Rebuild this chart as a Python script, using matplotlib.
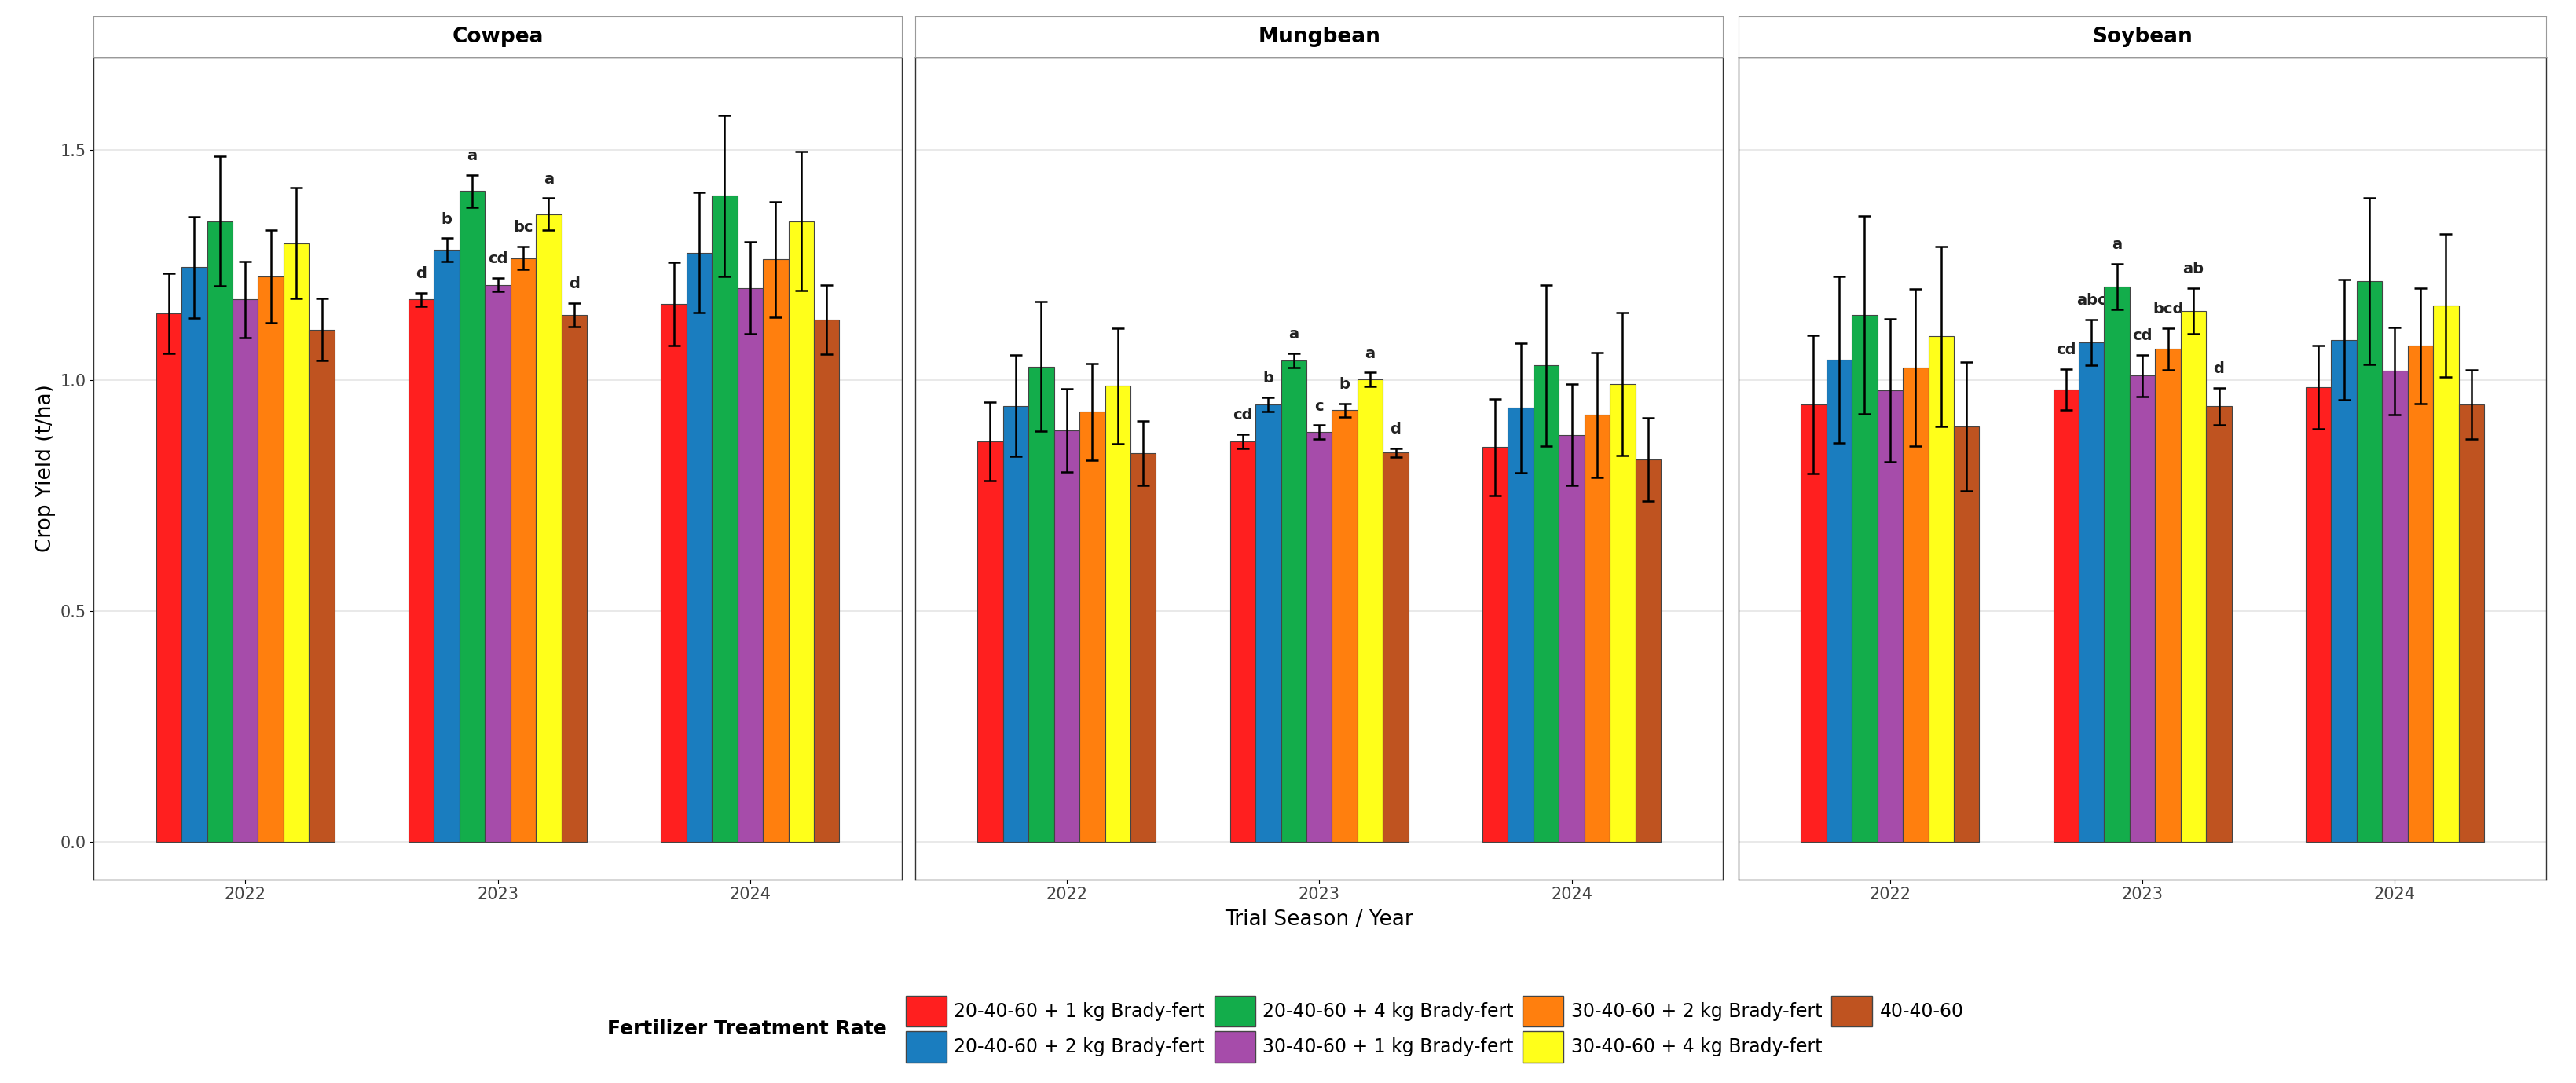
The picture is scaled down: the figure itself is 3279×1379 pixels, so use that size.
import matplotlib.pyplot as plt
from matplotlib.patches import Patch
import numpy as np

crops = ["Cowpea", "Mungbean", "Soybean"]
years = ["2022", "2023", "2024"]
treatments = ["20-40-60 + 1 kg Brady-fert", "20-40-60 + 2 kg Brady-fert",
              "20-40-60 + 4 kg Brady-fert", "30-40-60 + 1 kg Brady-fert",
              "30-40-60 + 2 kg Brady-fert", "30-40-60 + 4 kg Brady-fert",
              "40-40-60"]
colors = ["#FF1F1F", "#1A7DBF", "#13AD4B", "#A64CAA", "#FF7F0E", "#FFFF1A", "#BF5320"]

cowpea_mean = [[1.145, 1.245, 1.345, 1.175, 1.225, 1.297, 1.110],
               [1.175, 1.283, 1.410, 1.207, 1.265, 1.360, 1.142],
               [1.165, 1.277, 1.400, 1.200, 1.262, 1.345, 1.132]]
cowpea_err = [[0.087, 0.110, 0.140, 0.083, 0.100, 0.120, 0.067],
              [0.015, 0.025, 0.035, 0.015, 0.025, 0.035, 0.025],
              [0.090, 0.130, 0.175, 0.100, 0.125, 0.150, 0.075]]
mung_mean = [[0.868, 0.945, 1.030, 0.892, 0.932, 0.988, 0.842],
             [0.868, 0.948, 1.043, 0.888, 0.935, 1.002, 0.843],
             [0.855, 0.940, 1.032, 0.882, 0.925, 0.992, 0.828]]
mung_err = [[0.085, 0.110, 0.140, 0.090, 0.105, 0.125, 0.070],
            [0.015, 0.015, 0.015, 0.015, 0.015, 0.015, 0.010],
            [0.105, 0.140, 0.175, 0.110, 0.135, 0.155, 0.090]]
soy_mean = [[0.948, 1.045, 1.142, 0.978, 1.028, 1.095, 0.900],
            [0.980, 1.082, 1.203, 1.010, 1.068, 1.150, 0.944],
            [0.985, 1.088, 1.215, 1.020, 1.075, 1.162, 0.948]]
soy_err = [[0.150, 0.180, 0.215, 0.155, 0.170, 0.195, 0.140],
           [0.045, 0.050, 0.050, 0.045, 0.045, 0.050, 0.040],
           [0.090, 0.130, 0.180, 0.095, 0.125, 0.155, 0.075]]
# letters only for 2023
letters = {"Cowpea": ["d", "b", "a", "cd", "bc", "a", "d"],
           "Mungbean": ["cd", "b", "a", "c", "b", "a", "d"],
           "Soybean": ["cd", "abc", "a", "cd", "bcd", "ab", "d"]}

means = [cowpea_mean, mung_mean, soy_mean]
errs = [cowpea_err, mung_err, soy_err]

fig = plt.figure(figsize=(32.8, 13.79), dpi=100)
lefts = [0.0364, 0.3552, 0.6747]
w = 0.3135
bw = 0.101
for p, crop in enumerate(crops):
    ax = fig.add_axes([lefts[p], 0.188, w, 0.759])
    m = np.array(means[p])
    e = np.array(errs[p])
    x = np.arange(3)
    for t in range(7):
        xs = x + (t - 3) * bw
        ax.bar(xs, m[:, t], bw, color=colors[t], edgecolor="#444444", linewidth=0.8, zorder=3)
        ax.errorbar(xs, m[:, t], yerr=e[:, t], fmt="none", ecolor="black",
                    elinewidth=1.8, capsize=6, capthick=1.8, zorder=4)
        ax.text(xs[1], m[1, t] + e[1, t] + 0.025, letters[crop][t], ha="center",
                va="bottom", fontsize=14, fontweight="bold", color="#222222")
    ax.set_xlim(-0.6, 2.6)
    ax.set_ylim(-0.082, 1.70)
    ax.set_xticks(x)
    ax.set_xticklabels(years, fontsize=15, color="#444444")
    ax.set_yticks([0, 0.5, 1.0, 1.5])
    if p == 0:
        ax.set_yticklabels(["0.0", "0.5", "1.0", "1.5"], fontsize=15, color="#444444")
        ax.set_ylabel("Crop Yield (t/ha)", fontsize=19)
    else:
        ax.set_yticklabels([])
        ax.tick_params(axis="y", length=0)
    if p == 1:
        ax.set_xlabel("Trial Season / Year", fontsize=19, labelpad=6)
    ax.grid(axis="y", color="#E5E5E5", linewidth=1.2, zorder=0)
    for s in ax.spines.values():
        s.set_color("#333333")
        s.set_linewidth(1.0)
    # strip
    sax = fig.add_axes([lefts[p], 0.947, w, 0.038])
    sax.set_xticks([])
    sax.set_yticks([])
    for s in sax.spines.values():
        s.set_color("#999999")
    sax.text(0.5, 0.5, crop, ha="center", va="center", fontsize=19, fontweight="bold",
             transform=sax.transAxes)

handles = [Patch(facecolor=c, edgecolor="#444444", label=l) for c, l in zip(colors, treatments)]
fig.legend(handles=handles, loc="center left", bbox_to_anchor=(0.345, 0.05), ncol=4,
           frameon=False, fontsize=17, handlelength=2.2, handleheight=2.2,
           columnspacing=0.5, handletextpad=0.4, labelspacing=0.25)
fig.text(0.344, 0.05, "Fertilizer Treatment Rate", ha="right", va="center",
         fontsize=18, fontweight="bold")
fig.savefig("out.png", dpi=100)
